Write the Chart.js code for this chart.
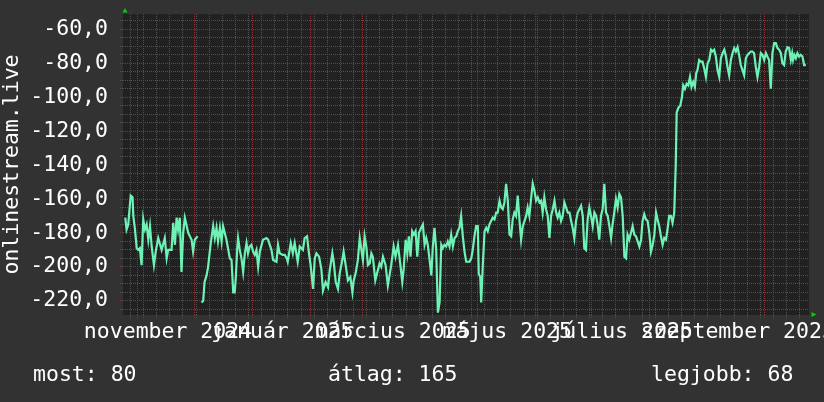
<!DOCTYPE html>
<html>
<head>
<meta charset="utf-8">
<script src="https://cdn.jsdelivr.net/npm/chart.js@4.4.0/dist/chart.umd.min.js"></script>
<style>
html, body { margin: 0; padding: 0; background: #323232; }
canvas { display: block; }
</style>
</head>
<body>
<canvas id="signalChart" width="824" height="402"></canvas>
<script>
const START = Date.UTC(2024, 9, 24, 12);

const sampleDays = [
    0.7, 1.4, 2.3, 3.6, 4.6, 5.0, 5.9, 6.8, 7.6, 8.5, 9.4, 10.3, 11.2, 12.1, 13.0, 13.9, 14.8, 16.0, 17.1, 18.3,
    20.1, 21.8, 22.8, 23.6, 25.4, 26.3, 27.2, 28.1, 28.9, 29.8, 30.7, 31.6, 32.5, 34.3, 36.1, 36.9, 37.8, 39.3,
    40.4,
    41.4, 42.3, 43.0, 44.1, 44.9, 46.2, 47.6, 48.5, 49.4, 50.2, 51.2, 52.1, 52.9, 54.7, 56.5, 57.4, 58.3, 59.1,
    59.7, 60.4, 60.9, 61.8, 62.7, 63.6, 64.5, 65.4, 66.2, 67.1, 68.0, 68.9, 69.8, 70.7, 71.6, 72.5, 74.2, 76.0,
    76.9, 78.7, 79.6, 81.4, 82.2, 83.1, 84.7, 85.8, 86.9, 87.4, 89.0, 90.1, 91.1, 92.7, 93.8, 95.5, 96.4, 97.7,
    98.7, 99.6, 100.9, 101.8, 102.7, 104.1, 105.3, 106.2, 107.6, 108.9, 109.8, 111.2, 111.9, 113.0, 114.2, 115.1,
    116.5, 117.2, 118.3, 119.5, 120.8, 121.9, 122.6, 123.6, 124.8, 125.8, 126.7, 127.5, 128.4, 129.3, 130.2, 131.1,
    132.0, 132.8, 134.1, 135.0, 136.4, 137.3, 138.2, 139.6, 140.8, 141.7, 142.6, 143.9, 144.9, 146.2, 147.4, 148.5,
    149.2, 150.3, 151.2, 152.0, 152.9, 153.8, 154.7, 155.6, 156.5, 157.4, 158.6, 159.5, 160.4, 161.3, 162.1, 163.1,
    164.0, 164.8, 165.7, 166.6, 167.5, 168.4, 169.3, 170.1, 171.0, 171.9, 172.8, 173.7, 174.6, 175.5, 176.4, 177.3,
    178.1, 179.0, 179.9, 180.8, 181.7, 182.6, 184.4, 185.3, 186.1, 187.0, 187.9, 188.8, 189.3, 190.1, 190.6, 191.5,
    192.4, 193.3, 194.1, 195.0, 195.9, 196.8, 197.7, 198.6, 199.4, 200.4, 201.3, 202.1, 203.0, 203.9, 204.8, 205.7,
    206.6, 207.4, 208.3, 209.2, 210.1, 211.0, 211.9, 212.8, 213.7, 214.6, 215.4, 216.3, 217.2, 218.1, 219.0, 219.9,
    220.8, 221.7, 222.6, 223.4, 224.3, 225.2, 226.1, 227.0, 227.9, 228.8, 229.7, 230.6, 231.4, 232.3, 233.2, 234.1,
    235.0, 235.9, 236.8, 237.7, 238.6, 239.4, 240.3, 241.2, 242.1, 243.0, 243.9, 244.8, 245.6, 246.5, 247.4, 248.3,
    249.2, 250.1, 251.0, 251.9, 252.7, 253.6, 254.5, 255.4, 256.3, 257.2, 258.1, 259.0, 259.9, 260.7, 261.6, 262.5,
    263.4, 264.3, 265.2, 266.1, 267.0, 267.9, 268.7, 269.6, 270.5, 271.4, 272.3, 273.2, 274.1, 275.0, 275.9, 276.7,
    277.6, 278.5, 279.4, 280.3, 281.2, 282.1, 283.0, 283.9, 284.7, 285.6, 286.5, 287.4, 288.3, 289.2, 290.0, 290.9,
    291.8, 292.7, 293.6, 294.4, 294.9, 295.9, 296.8, 297.7, 298.4, 299.3, 300.2, 301.1, 302.0, 302.8, 303.7, 304.6,
    305.3, 306.0, 306.9, 307.8, 308.7, 309.6, 310.5, 311.4, 312.3, 313.2, 314.0, 314.9, 315.8, 316.7, 317.6, 318.5,
    319.4, 320.3, 321.2, 322.0, 322.9, 323.8, 324.7, 325.6, 326.5, 327.4, 328.2, 329.1, 330.0, 330.9, 331.8, 332.7,
    333.6, 334.5, 335.3, 336.2, 337.1, 338.0, 338.9, 339.8, 340.7, 341.6, 342.5, 343.3, 344.2, 345.1, 346.0, 346.9,
    347.8, 348.7, 349.6, 350.5, 351.3, 352.2, 353.1, 354.0, 354.9, 355.8, 356.5, 357.0, 357.7, 358.5, 359.3, 360.2,
    361.1, 362.0, 362.9, 363.8
];

const signalDbm = [
    -171, -178, -175, -158, -159, -170, -178, -189, -190, -189, -199, -172, -178, -175, -184, -176, -188, -199, -190, -183,
    -190, -183, -195, -190, -190, -174, -187, -171, -178, -171, -203, -180, -171, -180, -184, -191, -184, -182,
    null,
    -221, -220, -209, -205, -200, -187, -176, -183, -177, -185, -177, -185, -176, -184, -195, -196, -215, -215,
    -206, -190, -183, -190, -195, -203, -192, -186, -192, -188, -187, -191, -193, -190, -200, -191, -184, -183,
    -184, -190, -196, -197, -187, -192, -193, -193, -195, -197, -186, -192, -186, -197, -188, -190, -183, -182,
    -192, -199, -213, -195, -192, -194, -201, -214, -209, -212, -202, -192, -197, -209, -213, -204,
    -196, -191, -199, -208, -206, -215, -208, -204, -196, -183, -190, -196, -182, -188, -199, -198,
    -192, -194, -208, -204, -198, -200, -194, -199, -211, -205, -199, -188, -194, -187, -198, -209,
    -202, -184, -192, -182, -194, -179, -181, -179, -194, -180, -177, -175, -187, -183, -187, -196,
    -205, -188, -177, -190, -227, -221, -187, -189, -187, -188, -185, -188, -181, -188, -183, -182,
    -179, -177, -170, -182, -191, -197, -197, -195, -190, -182, -176, -176, -204, -206, -221, -198,
    -179, -177, -179, -175, -173, -171, -172, -168, -168, -161, -165, -166, -162, -151, -161, -181,
    -182, -172, -168, -170, -158, -172, -184, -176, -173, -170, -165, -170, -160, -151, -155, -161,
    -159, -162, -161, -168, -159, -166, -170, -183, -170, -166, -161, -168, -171, -168, -173, -170,
    -162, -165, -168, -168, -173, -177, -183, -173, -168, -166, -164, -170, -189, -190, -172, -165,
    -170, -176, -168, -170, -175, -184, -170, -166, -151, -168, -170, -176, -183, -175, -168, -160,
    -165, -157, -159, -170, -194, -195, -181, -184, -180, -176, -181, -182, -185, -188, -184, -173,
    -169, -172, -173, -180, -191, -187, -181, -168, -172, -176, -182, -187, -183, -184, -178, -170,
    -170, -174, -168, -140, -109, -106, -105, -100, -93, -95, -92, -93, -88, -94, -91, -94,
    -86, -84, -78, -79, -79, -83, -88, -80, -78, -72, -73, -72, -76, -84, -88, -77,
    -74, -72, -76, -82, -87, -78, -74, -71, -73, -70.5, -75, -81, -84, -87, -77, -75,
    -74, -73, -73, -74, -82, -88, -82, -74, -75, -78, -74, -76, -78, -95, -74, -68,
    -68, -71, -72, -74, -80, -81, -73, -70.5, -71, -78, -74, -78, -75, -77, -74, -76,
    -75, -76, -81, -81
];

// Axis content
const monthStarts = [
    "2024-11-01", "2024-12-01", "2025-01-01", "2025-02-01", "2025-03-01", "2025-04-01",
    "2025-05-01", "2025-06-01", "2025-07-01", "2025-08-01", "2025-09-01", "2025-10-01"
];
const monthLabels = [
    "november 2024", "", "január 2025", "", "március 2025", "",
    "május 2025", "", "július 2025", "", "szeptember 2025", ""
];
const firstMonday = "2024-10-28";
const yLabelValues = [-220, -200, -180, -160, -140, -120, -100, -80, -60];
const axisTitle = "onlinestream.live";
const summaryTexts = ["most: 80", "átlag: 165", "legjobb: 68"];

const FONT = "DejaVu Sans Mono";
const FONT_SIZE = 21.5;
const GRID_GREY = "#515151";
const GRID_RED = "#7e3636";
const LINE_COLOR = "#6ff2b6";

const dayOf = iso => (Date.parse(iso + "T00:00:00Z") - START) / 86400000;
const X_MIN = -0.5, X_MAX = 365.5;

// x ticks: weekly grey lines plus red month lines
function buildXTicks() {
    const byValue = new Map();
    for (let d = dayOf(firstMonday); d <= X_MAX; d += 7) {
        byValue.set(d, { value: d, month: false, text: "" });
    }
    monthStarts.forEach((m, i) => {
        const d = dayOf(m);
        byValue.set(d, { value: d, month: true, text: monthLabels[i] });
    });
    return [...byValue.values()].sort((a, b) => a.value - b.value);
}

function buildYTicks() {
    const ticks = [];
    for (let v = -225; v <= -55; v += 5) ticks.push({ value: v });
    return ticks;
}

const isMajorY = v => v % 20 === 0;
const hasYLabel = v => yLabelValues.includes(v);

const points = sampleDays.map((d, i) => ({ x: d, y: signalDbm[i] }));

const frame = {
    id: "frame",
    beforeDraw(chart) {
        const { ctx, chartArea: a } = chart;
        ctx.save();
        ctx.fillStyle = "#323232";
        ctx.fillRect(0, 0, chart.width, chart.height);
        ctx.fillStyle = "#212121";
        ctx.fillRect(a.left, a.top, a.right - a.left, a.bottom - a.top);
        ctx.restore();
    },
    afterDraw(chart) {
        const { ctx, chartArea: a } = chart;
        ctx.save();
        // axis arrows
        ctx.fillStyle = "#00d000";
        ctx.beginPath();
        ctx.moveTo(a.left + 2, a.top - 6);
        ctx.lineTo(a.left - 0.5, a.top - 1.5);
        ctx.lineTo(a.left + 4.5, a.top - 1.5);
        ctx.closePath();
        ctx.fill();
        ctx.beginPath();
        ctx.moveTo(a.right + 7.5, a.bottom - 0.5);
        ctx.lineTo(a.right + 2.5, a.bottom - 3);
        ctx.lineTo(a.right + 2.5, a.bottom + 2);
        ctx.closePath();
        ctx.fill();
        // summary line
        ctx.fillStyle = "#ffffff";
        ctx.font = `${FONT_SIZE}px "${FONT}"`;
        ctx.textBaseline = "middle";
        ctx.textAlign = "left";
        const xs = [33, 328, 651];
        summaryTexts.forEach((t, i) => ctx.fillText(t, xs[i], 375));
        ctx.restore();
    }
};

new Chart(document.getElementById("signalChart"), {
    type: "line",
    data: {
        datasets: [{
            data: points,
            borderColor: LINE_COLOR,
            borderWidth: 2.2,
            pointRadius: 0,
            tension: 0,
            spanGaps: false
        }]
    },
    options: {
        responsive: false,
        animation: false,
        events: [],
        layout: { padding: { top: 14, right: 15, left: 0, bottom: 0 } },
        plugins: { legend: { display: false }, tooltip: { enabled: false } },
        scales: {
            x: {
                type: "linear",
                min: X_MIN,
                max: X_MAX,
                afterBuildTicks: scale => { scale.ticks = buildXTicks(); },
                afterFit: scale => { scale.height = 87; },
                border: { display: false, dash: [1, 1] },
                grid: {
                    color: c => (c.tick && c.tick.month ? GRID_RED : GRID_GREY),
                    tickColor: c => (c.tick && c.tick.month ? GRID_RED : GRID_GREY),
                    tickLength: 3,
                    tickBorderDash: [1, 1]
                },
                ticks: {
                    autoSkip: false,
                    maxRotation: 0,
                    padding: 2,
                    labelOffset: 30,
                    color: "#ffffff",
                    font: { family: FONT, size: FONT_SIZE },
                    callback: (v, i, ticks) => ticks[i].text || ""
                }
            },
            y: {
                min: -228.4,
                max: -50.9,
                afterBuildTicks: scale => { scale.ticks = buildYTicks(); },
                afterFit: scale => { scale.width = 123; },
                border: { display: false, dash: [1, 1] },
                grid: {
                    color: c => (c.tick && isMajorY(c.tick.value) ? GRID_RED : GRID_GREY),
                    tickColor: c => (c.tick && isMajorY(c.tick.value) ? GRID_RED : GRID_GREY),
                    tickLength: 3,
                    tickBorderDash: [1, 1]
                },
                ticks: {
                    autoSkip: false,
                    padding: 12,
                    color: "#ffffff",
                    // tiny font for unlabeled minor ticks so they add no top padding
                    font: c => ({ family: FONT, size: c.tick && hasYLabel(c.tick.value) ? FONT_SIZE : 1 }),
                    callback: v => (hasYLabel(v) ? `${v},0` : "")
                },
                title: {
                    display: true,
                    text: axisTitle,
                    color: "#ffffff",
                    font: { family: FONT, size: FONT_SIZE },
                    padding: { top: 0, bottom: 0 }
                }
            }
        }
    },
    plugins: [frame]
});
</script>
</body>
</html>
